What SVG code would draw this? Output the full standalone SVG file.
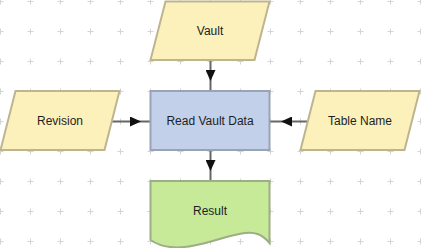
<svg xmlns="http://www.w3.org/2000/svg" width="421" height="248" viewBox="0 0 421 248">
<style>
.io{fill:#fcf0bb;stroke:#bdb58f;stroke-width:2}
.proc{fill:#c3d0ea;stroke:#9aa3b5;stroke-width:2}
.doc{fill:#c6ea98;stroke:#9dae86;stroke-width:2}
.lbl{font-family:"Liberation Sans",Arial,sans-serif;font-size:12px;fill:#1e1e1e;text-anchor:middle}
.edge{fill:none;stroke:#666;stroke-width:2;marker-mid:url(#arr)}
</style>
<defs>
<pattern id="grid" patternUnits="userSpaceOnUse" x="-15" y="-14" width="30" height="30">
<path d="M12.5,15.5H18.5M15.5,12.5V18.5" stroke="#d4d4d4" stroke-width="1" fill="none"/>
</pattern>
<marker id="arr" markerUnits="userSpaceOnUse" viewBox="0 0 11 10" refX="11" refY="5" markerWidth="11" markerHeight="10" orient="auto">
<path d="M0,0L11,5L0,10Z" fill="#111"/>
</marker>
</defs>
<rect width="421" height="248" fill="#fff"/>
<rect width="421" height="248" fill="url(#grid)"/>
<g id="connectors">
<path class="edge" d="M210.5,60L210.5,81L210.5,91"/>
<path class="edge" d="M111,121.5L141,121.5L150.5,121.5"/>
<path class="edge" d="M307,121.5L281,121.5L269.5,121.5"/>
<path class="edge" d="M210.5,150L210.5,171L210.5,181"/>
</g>
<g id="vault">
<polygon class="io" points="165.5,1.5 269.5,1.5 254.5,60 150.5,60"/>
<text class="lbl" x="210" y="35">Vault</text>
</g>
<g id="revision">
<polygon class="io" points="15.5,91 119.5,91 104.5,150 0.5,150"/>
<text class="lbl" x="60" y="125">Revision</text>
</g>
<g id="read-vault-data">
<rect class="proc" x="150.5" y="91" width="119" height="59"/>
<text class="lbl" x="210" y="125">Read Vault Data</text>
</g>
<g id="table-name">
<polygon class="io" points="315.5,91 419.5,91 404.5,150 300.5,150"/>
<text class="lbl" x="360" y="125">Table Name</text>
</g>
<g id="result">
<path class="doc" d="M150.5,181H269.5V243C262,234 255,232 245,233C225,235 195,250 170,247C160,246 155,243 150.5,240Z"/>
<text class="lbl" x="210" y="215">Result</text>
</g>
</svg>
